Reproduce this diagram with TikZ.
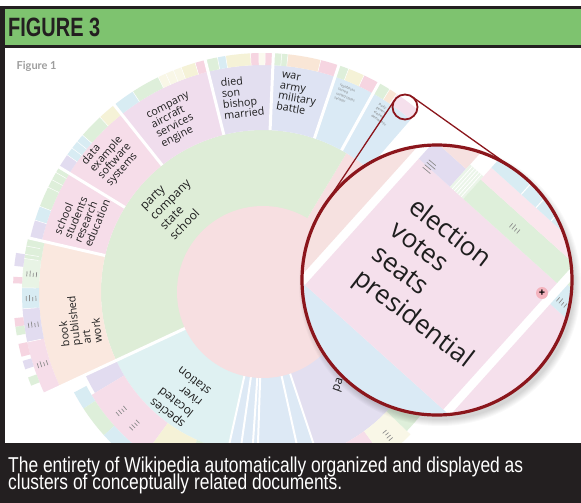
\documentclass[tikz,border=0pt]{standalone}
\usepackage{graphicx}
\usepackage{fontspec}
\setmainfont{Open Sans}
\newfontfamily\capfont{Liberation Sans}
\newfontfamily\figfont{Lato}
\usetikzlibrary{calc}
\definecolor{frame}{RGB}{35,31,32}
\definecolor{hdr}{RGB}{126,195,111}
\definecolor{cGreen}{RGB}{222,237,215}
\definecolor{cPink}{RGB}{247,223,225}
\definecolor{cSalmon}{RGB}{246,225,224}
\definecolor{cOrchid}{RGB}{240,221,237}
\definecolor{cRose}{RGB}{246,221,233}
\definecolor{cLav}{RGB}{227,223,240}
\definecolor{cPeri}{RGB}{222,227,243}
\definecolor{cSky}{RGB}{218,234,245}
\definecolor{cPeach}{RGB}{250,232,223}
\definecolor{cCyan}{RGB}{223,241,242}
\definecolor{cSlice}{RGB}{221,233,245}
\definecolor{cYel}{RGB}{245,242,215}
\definecolor{cMint}{RGB}{222,239,218}
\definecolor{cIce}{RGB}{216,236,243}
\definecolor{cBlush}{RGB}{246,213,225}
\definecolor{cLavS}{RGB}{226,220,240}
\definecolor{cPeachS}{RGB}{249,230,214}
\definecolor{cElect}{RGB}{245,224,236}
\definecolor{lens}{RGB}{139,22,28}
\definecolor{ink}{RGB}{30,30,30}
\definecolor{plusPink}{RGB}{244,180,190}
\newcommand{\sect}[5]{\fill[#1] (#2:#4) arc[start angle=#2, end angle=#3, radius=#4] -- (#3:#5) arc[start angle=#3, end angle=#2, radius=#5] -- cycle;}
\newcommand{\gapline}[4]{\draw[white, line width=#4] (#1:#2) -- (#1:#3);}
\newcommand{\mk}[1]{\textcolor{black!45}{\rule{#1}{0.7pt}}}
\newdimen\tmpw
\begin{document}
\settowidth{\tmpw}{\capfont\bfseries\fontsize{26.5}{26.5}\selectfont FIGURE 3}%
\pgfmathsetmacro{\hsx}{92/\tmpw}%
\settowidth{\tmpw}{\capfont\fontsize{21.5}{16}\selectfont The entirety of Wikipedia automatically organized and displayed as}%
\pgfmathsetmacro{\csx}{515/\tmpw}%
\begin{tikzpicture}[x=1pt,y=-1pt,
  lbl/.style={font=\fontsize{10.8}{10.9}\selectfont, text=ink, align=left, inner sep=0pt},
  biglbl/.style={font=\fontsize{12}{14}\selectfont, text=ink, align=left, inner sep=0pt},
  tiny/.style={font=\fontsize{3.3}{4.6}\selectfont, text=black!55, align=left, inner sep=0pt},
  marks/.style={font=\fontsize{3.6}{3.2}\selectfont, align=left, inner sep=0pt},
  magtxt/.style={font=\fontsize{26}{30}\selectfont, text=ink, inner sep=0pt, anchor=base west, rotate=-37.5},
  lensline/.style={draw=lens, line width=1.3pt},
  capline/.style={font=\capfont\fontsize{21.5}{16}\selectfont, text=white, inner sep=0pt, anchor=base west}]
\useasboundingbox (0,0) rectangle (581,503);
% frame and header
\fill[frame] (0,6.5) rectangle (581,503);
\fill[white] (4.5,48.5) rectangle (581,443);
\fill[hdr] (4.5,9.3) rectangle (581,45.3);
\node[font=\capfont\bfseries\fontsize{26.5}{26.5}\selectfont, text=frame, inner sep=0pt, anchor=base west] (title) at (8,36.8) {\scalebox{\hsx}[1]{FIGURE 3}};
\node[font=\figfont\bfseries\fontsize{11}{11}\selectfont, text=black!38, inner sep=0pt, anchor=base west] (fig1) at (16.5,69.5) {Figure 1};

% ---------------- sunburst ----------------
\begin{scope}[shift={(263,292)}, yscale=-1]
 % ring 1
 \sect{cPink}{-40}{59}{1}{162}
 \sect{cGreen}{59}{205}{1}{162}
 \sect{cCyan}{205}{257.5}{1}{162}
 \sect{cSlice}{257.5}{288.4}{1}{170}
 \sect{cLav}{288.4}{322}{1}{172}
 % ring 2
 \sect{cSky}{49}{61}{162}{227}
 \sect{cSky}{61}{71.5}{162}{227}
 \sect{cPeri}{71.5}{87.5}{162}{227}
 \sect{cLav}{87.5}{104}{162}{227}
 \sect{cOrchid}{104}{128.5}{162}{227}
 \sect{cRose}{128.5}{148.5}{162}{227}
 \sect{cRose}{148.5}{167}{162}{227}
 \sect{cPeach}{167}{205}{162}{224}
 \sect{cLavS}{205}{211}{162}{196}
 \sect{cRose}{211}{234}{162}{200}
 \sect{cYel}{234}{246}{162}{192}
 \sect{cMint}{246}{257.5}{162}{190}
 \sect{cRose}{298}{306}{172}{200}
 \sect{cYel!60!white}{306}{316}{172}{205}
 \sect{cMint}{316}{322}{172}{200}
 % ring 3 strips
 \foreach \a/\b/\c in {104/106.5/cBlush, 106.5/110/cYel, 110/116/cYel!60!white, 116/123/cMint, 123/128.5/cIce,
   87.5/89.5/cBlush, 89.5/91/cYel!40!white, 91/93/cBlush, 93/99/cYel, 99/101/cIce, 101/104/cMint,
   71.5/76/cBlush, 76/84/cPeachS, 84/87.5/cMint,
   61/65/cBlush, 65/69/cYel, 69/71.5/cMint,
   49/56/cElect, 56/58/cPeachS, 58/61/cMint,
   128.5/133/cYel, 133/139/cMint, 139/145/cIce, 145/148.5/cLavS,
   148.5/159/cMint, 159/162.5/cIce, 162.5/167/cLavS}
   {\sect{\c}{\a}{\b}{227}{239}}
 \foreach \a/\b/\c in {167/172/cMint, 172/179/cMint!70!white, 179/184/cIce, 184/192/cLavS, 192/205/cRose}
   {\sect{\c}{\a}{\b}{224}{241}}
 \foreach \a/\b/\c in {171/174/cLavS, 176.5/178/cBlush, 186/188/cBlush, 188/190/cMint, 192/195/cBlush, 196/198/cLavS, 200/202/cMint}
   {\sect{\c}{\a}{\b}{241}{250}}
 \foreach \a/\b/\c in {208/213/cIce, 213/222/cMint, 222/232/cIce}
   {\sect{\c}{\a}{\b}{200}{214}}
 % thin separators in strips
 \foreach \a in {106.5,110,112,114,116,123,89.5,91,93,99,101,76,84,85.5,65,69,56,58,133,139,141,143,145,150,152,154,159,162.5,169,171,172,179,184,192}
   {\draw[white, line width=0.5pt] (\a:227) -- (\a:241);}
 % gaps
 \foreach \a in {167}{\gapline{\a}{162}{252}{3pt}}
 \foreach \a in {148.5,128.5,104,87.5,71.5,61,49}{\gapline{\a}{162}{242}{3pt}}
 \gapline{205}{60}{255}{3pt}
 \foreach \a in {257.5,261.9,266.2,268.1,282.5,288.4}{\gapline{\a}{60}{175}{2pt}}
 % inner pink circle
 \fill[cPink] (0,0) circle[radius=86];
 % labels
 \node[biglbl, rotate=45] (lgreen) at (135:124) {party\\company\\state\\school};
 \node[biglbl, rotate=141.7] (lspecies) at (231.7:134) {species\\located\\river\\station};
 \node[lbl, rotate=27] (lcompany) at (117:192) {company\\aircraft\\services\\engine};
 \node[lbl, rotate=6] (ldied) at (96:196) {died\\son\\bishop\\married};
 \node[lbl, rotate=-10] (lwar) at (80:201) {war\\army\\military\\battle};
 \node[lbl, rotate=48.6] (ldata) at (138.6:203) {data\\example\\software\\systems};
 \node[lbl, rotate=67.5] (lschool) at (157.5:196) {school\\students\\research\\education};
 \node[lbl, rotate=96] (lbook) at (188.7:186) {book\\published\\art\\work};
 \node[tiny, rotate=-24] (lrep) at (67:214) {republican\\served\\united states\\senator};
 \node[tiny, rotate=-34] (lparty) at (56:214) {party\\general\\elected\\democratic};
 \node[biglbl, rotate=70] (lpa) at (-50.7:120) {pa};
 % illegible small labels drawn as marks
 \foreach \a in {175.5,181.5,188,198}{\node[marks, rotate=\a-90] at (\a:232) {\mk{5pt}\\\mk{6pt}\\\mk{4pt}\\\mk{5pt}};}
 \foreach \a in {220,226}{\node[marks, rotate=\a-90] at (\a:185) {\mk{5pt}\\\mk{5pt}\\\mk{4pt}\\\mk{5pt}};}
 \node[marks, rotate=220] at (311:190) {\mk{5pt}\\\mk{5pt}\\\mk{4pt}\\\mk{5pt}};
\end{scope}

% ---------------- magnifier ----------------
\node[circle, minimum size=25pt, inner sep=0pt, outer sep=0pt] (lensA) at (405,107) {};
\node[circle, minimum size=270pt, inner sep=0pt, outer sep=0pt] (lensB) at (437,280) {};
\foreach \k in {1,...,7}{\fill[black, opacity=0.022] (440,285) circle[radius=134+\k];}
\draw[lensline] (lensA.146) -- (lensB.146);
\draw[lensline] (lensA.55) -- (lensB.55);
\begin{scope}
 \clip (437,280) circle[radius=135];
 \fill[white] (437,280) circle[radius=135];
 \begin{scope}[shift={(305,285)}, rotate=-42, yscale=-1]
  \fill[cSky] (-300,-300) rectangle (400,0);
  \fill[cSalmon] (-300,0) rectangle (-9,400);
  \fill[cElect] (0,0) rectangle (186,170);
  \fill[cElect] (195,0) rectangle (400,150);
  \fill[cIce] (195,150) rectangle (400,176);
  \fill[cMint] (195,176) rectangle (400,214);
  \fill[cLavS] (0,170) rectangle (42,194);
  \fill[cSalmon] (0,194) rectangle (42,216);
  \fill[cMint!60!white] (42,170) rectangle (60,200);
  \foreach \t in {45,48,51,54,57}{\draw[white, line width=0.8pt] (\t,170) -- (\t,200);}
  \fill[cMint] (60,170) rectangle (186,196);
  \fill[cBlush!60!white] (60,196) rectangle (186,212);
  \fill[cIce] (60,212) rectangle (186,234);
  \foreach \t in {100,120,140}{\draw[white, line width=1pt] (\t,212) -- (\t,234);}
 \end{scope}
 \node[marks, rotate=-40] at (430,167) {\mk{9pt}\\\mk{11pt}\\\mk{8pt}\\\mk{10pt}};
 \node[marks, rotate=50] at (515,228) {\mk{5pt}\\\mk{6pt}\\\mk{4pt}\\\mk{5pt}};
 \node[marks, rotate=50] at (562,302) {\mk{5pt}\\\mk{6pt}\\\mk{4pt}\\\mk{5pt}};
\end{scope}
\node[magtxt] (m1) at (407,210) {election};
\node[magtxt] (m2) at (388.7,233.8) {votes};
\node[magtxt] (m3) at (370.4,257.6) {seats};
\node[magtxt] (m4) at (352.1,281.4) {presidential};
\node[circle, fill=plusPink, minimum size=12pt, inner sep=0pt, font=\bfseries\fontsize{11}{11}\selectfont] (plus) at (542,293) {+};
\draw[lens, line width=3.2pt] (lensB.center) circle[radius=135];
\draw[lens, line width=1.8pt] (lensA.center) circle[radius=12.5];

% ---------------- caption ----------------
\fill[frame] (0,443) rectangle (581,503);
\node[capline] (cap1) at (8,472.5) {\scalebox{\csx}[1]{The entirety of Wikipedia automatically organized and displayed as}};
\node[capline] (cap2) at (8,489) {\scalebox{\csx}[1]{clusters of conceptually related documents.}};
\end{tikzpicture}
\end{document}
